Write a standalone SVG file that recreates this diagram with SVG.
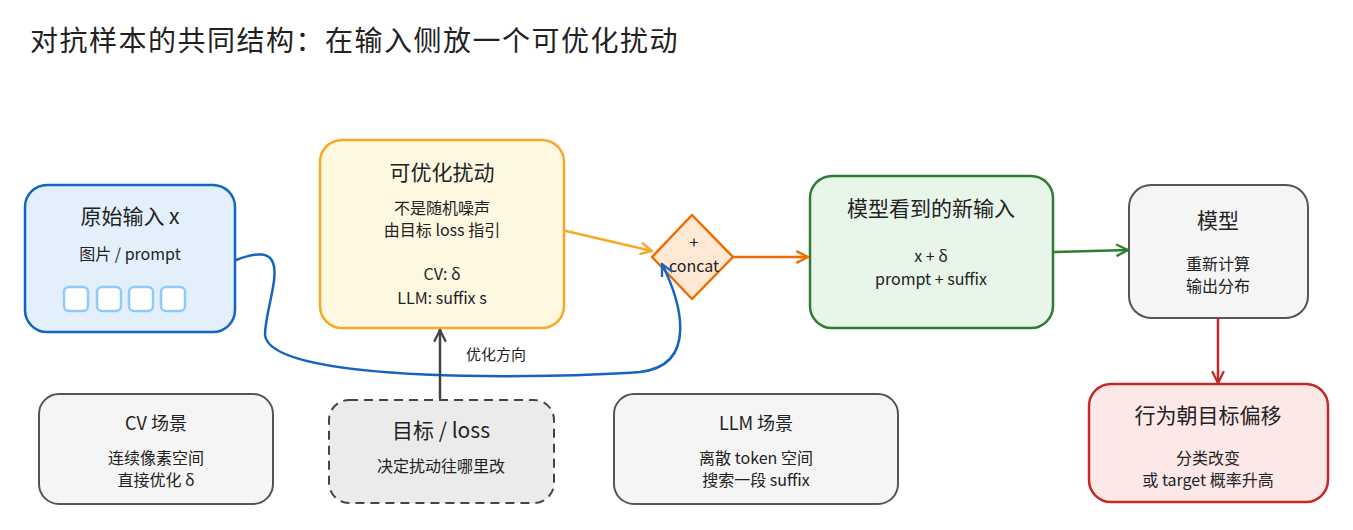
<svg xmlns="http://www.w3.org/2000/svg" width="1353" height="530" viewBox="0 0 1353 530">
<style>
text{font-family:"Noto Sans CJK SC",sans-serif;text-anchor:middle;fill:#222}
.t{font-size:21px}.s{font-size:16px}
.e{fill:none;stroke-width:2.5;stroke-linecap:round}
</style>
<defs>
<marker id="a" viewBox="0 0 12 12" refX="11" refY="6" markerWidth="14" markerHeight="14" markerUnits="userSpaceOnUse" orient="auto"><path d="M1,1 L11,6 L1,11" fill="none" stroke="context-stroke" stroke-width="2"/></marker>
</defs>
<rect width="1353" height="530" fill="#fff"/>
<text x="30" y="51" style="font-size:28px;letter-spacing:1.5px;text-anchor:start">对抗样本的共同结构：在输入侧放一个可优化扰动</text>
<g id="input">
<rect x="25" y="185" width="210" height="147" rx="22" fill="#e3f0fc" stroke="#1565c0" stroke-width="2.5"/>
<text x="130" y="224" class="t">原始输入 x</text>
<text x="130" y="260" class="s">图片 / prompt</text>
<g fill="#fff" stroke="#90caf9" stroke-width="2.5">
<rect x="64" y="287" width="24" height="24" rx="5"/><rect x="97" y="287" width="24" height="24" rx="5"/><rect x="129" y="287" width="24" height="24" rx="5"/><rect x="161" y="287" width="24" height="24" rx="5"/></g>
</g>
<g id="perturb">
<rect x="320" y="140" width="244" height="188" rx="22" fill="#fff8e1" stroke="#f9a825" stroke-width="2.5"/>
<text x="442" y="180" class="t">可优化扰动</text>
<text x="442" y="214" class="s">不是随机噪声</text>
<text x="442" y="236" class="s">由目标 loss 指引</text>
<text x="442" y="280" class="s">CV: δ</text>
<text x="442" y="304" class="s">LLM: suffix s</text>
</g>
<g id="concat">
<path d="M692,215 L733,257 L692,299 L652,257 Z" fill="#ffe8d4" stroke="#ef6c00" stroke-width="2.5" stroke-linejoin="round"/>
<text x="694" y="248" class="s">+</text>
<text x="694" y="272" class="s">concat</text>
</g>
<g id="newinput">
<rect x="810" y="176" width="243" height="152" rx="22" fill="#e8f5e9" stroke="#2e7d32" stroke-width="2.5"/>
<text x="931" y="216" class="t">模型看到的新输入</text>
<text x="931" y="262" class="s">x + δ</text>
<text x="931" y="285" class="s">prompt + suffix</text>
</g>
<g id="model">
<rect x="1129" y="185" width="179" height="133" rx="22" fill="#f5f5f5" stroke="#555" stroke-width="2"/>
<text x="1218" y="228" class="t">模型</text>
<text x="1218" y="270" class="s">重新计算</text>
<text x="1218" y="292" class="s">输出分布</text>
</g>
<g id="result">
<rect x="1089" y="384" width="239" height="118" rx="22" fill="#fde8e8" stroke="#c62828" stroke-width="2.5"/>
<text x="1208" y="423" class="t">行为朝目标偏移</text>
<text x="1208" y="464" class="s">分类改变</text>
<text x="1208" y="486" class="s">或 target 概率升高</text>
</g>
<g id="cv">
<rect x="39" y="394" width="234" height="110" rx="20" fill="#f5f5f5" stroke="#555" stroke-width="2"/>
<text x="156" y="430" style="font-size:18px">CV 场景</text>
<text x="156" y="464" class="s">连续像素空间</text>
<text x="156" y="486" class="s">直接优化 δ</text>
</g>
<g id="loss">
<rect x="329" y="400" width="225" height="103" rx="20" fill="#ebebeb" stroke="#444" stroke-width="2" stroke-dasharray="9 6"/>
<text x="441" y="438" class="t">目标 / loss</text>
<text x="441" y="472" class="s">决定扰动往哪里改</text>
</g>
<g id="llm">
<rect x="614" y="394" width="284" height="110" rx="20" fill="#f5f5f5" stroke="#555" stroke-width="2"/>
<text x="756" y="430" style="font-size:18px">LLM 场景</text>
<text x="756" y="464" class="s">离散 token 空间</text>
<text x="756" y="486" class="s">搜索一段 suffix</text>
</g>
<g id="edges">
<path class="e" d="M236,260 C300,235 265,300 265,335 C270,385 560,378 640,372 C700,365 680,300 662,264" stroke="#1565c0" marker-end="url(#a)"/>
<path class="e" d="M566,231 L652,251" stroke="#f9a825" marker-end="url(#a)"/>
<path class="e" d="M733,257 L808,257" stroke="#ef6c00" stroke-width="3" marker-end="url(#a)"/>
<path class="e" d="M1055,252 L1128,250" stroke="#2e7d32" marker-end="url(#a)"/>
<path class="e" d="M1218,319 L1218,383" stroke="#c62828" marker-end="url(#a)"/>
<path class="e" d="M440,398 L440,330" stroke="#444" stroke-width="3" marker-end="url(#a)"/>
<text x="496" y="360" style="font-size:15px">优化方向</text>
</g>
</svg>
